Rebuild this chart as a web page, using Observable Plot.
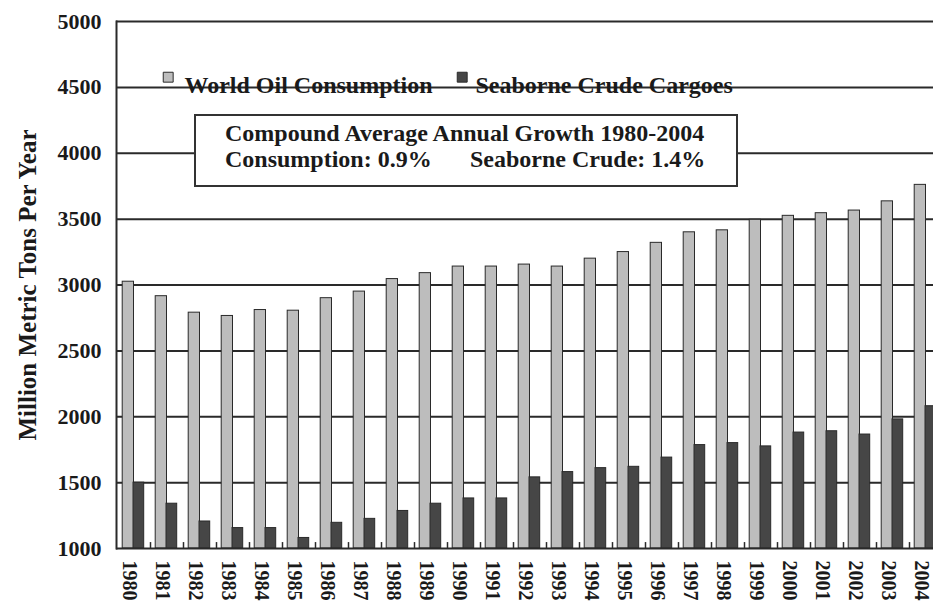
<!DOCTYPE html>
<html><head><meta charset="utf-8">
<script src="https://cdn.jsdelivr.net/npm/d3@7"></script>
<script src="https://cdn.jsdelivr.net/npm/@observablehq/plot@0.6"></script>
<style>
body{margin:0;overflow:hidden;background:#fff;}
#wrap{position:relative;width:933px;height:604px;overflow:hidden;background:#fff;}
#box{position:absolute;left:194px;top:114px;width:540px;height:69px;border:2px solid #333;background:#fff;font:bold 24px "Liberation Serif",serif;color:#1a1a1a;}
#box span{position:absolute;white-space:nowrap;line-height:24px;}
</style></head>
<body><div id="wrap"><div id="box">
<span style="left:29px;top:5px">Compound Average Annual Growth 1980-2004</span>
<span style="left:29px;top:31px">Consumption: 0.9%</span>
<span style="left:274px;top:31px">Seaborne Crude: 1.4%</span>
</div></div>
<script>
const years = ["1980","1981","1982","1983","1984","1985","1986","1987","1988","1989","1990","1991","1992","1993","1994","1995","1996","1997","1998","1999","2000","2001","2002","2003","2004"];
const consumption = [3025,2915,2790,2765,2810,2805,2900,2950,3045,3090,3140,3140,3155,3140,3200,3250,3320,3400,3415,3495,3525,3545,3565,3635,3760];
const seaborne = [1500,1340,1205,1155,1155,1080,1195,1225,1285,1340,1380,1380,1540,1580,1610,1620,1690,1785,1800,1775,1880,1890,1865,1980,2080];
const seriesNames = ["World Oil Consumption","Seaborne Crude Cargoes"];
const yTicks = [1000,1500,2000,2500,3000,3500,4000,4500,5000];
const yLabel = "Million Metric Tons Per Year";

const consRows = years.map((y,i)=>({year:y, value:consumption[i]}));
const seaRows = years.map((y,i)=>({year:y, value:seaborne[i]}));
const lightFill = "#bdbdbd", darkFill = "#464646", ink = "#2a2a2a";

const chart = Plot.plot({
  width: 942, height: 604,
  marginTop: 21, marginBottom: 56, marginLeft: 116, marginRight: 0,
  style: {fontFamily: '"Liberation Serif", serif', fontWeight: "bold", fontSize: "22px", color: "#1a1a1a", background: "#fff", maxWidth: "none"},
  x: {domain: years, padding: 0},
  y: {domain: [1000, 5000]},
  marks: [
    Plot.ruleY(yTicks.slice(1), {stroke: ink, strokeWidth: 2}),
    Plot.barY(consRows, {x: "year", y1: 1000, y2: "value", fill: lightFill, stroke: ink, strokeWidth: 1, insetLeft: 5.2, insetRight: 16.5}),
    Plot.barY(seaRows, {x: "year", y1: 1000, y2: "value", fill: darkFill, stroke: ink, strokeWidth: 1, insetLeft: 16, insetRight: 6.3}),
    Plot.ruleX(years, {x: d => d, dx: 16.5, y1: 1000, y2: 1045, stroke: ink, strokeWidth: 1.5}),
    Plot.ruleY([1000], {stroke: ink, strokeWidth: 2}),
    Plot.frame({anchor: "left", stroke: ink, strokeWidth: 2}),
    Plot.axisY({ticks: yTicks, tickSize: 0, tickPadding: 15, tickFormat: d => String(d), label: null, fontSize: 22}),
    Plot.text([yLabel], {frameAnchor: "left", dx: -89, rotate: -90, text: d => d, textAnchor: "middle", fontSize: 25, fill: "#1a1a1a"}),
    Plot.axisX({tickSize: 0, tickRotate: 90, tickPadding: 12, label: null, dx: -4.5, fontSize: 20}),
    Plot.dot([seriesNames[0]], {frameAnchor: "top-left", dx: 51.7, dy: 55.7, symbol: "square", r: 5.6, fill: lightFill, stroke: ink, strokeWidth: 1}),
    Plot.text([seriesNames[0]], {frameAnchor: "top-left", dx: 68, dy: 54.6, text: d => d, textAnchor: "start", fontSize: 24, fill: "#1a1a1a"}),
    Plot.dot([seriesNames[1]], {frameAnchor: "top-left", dx: 345.7, dy: 55.7, symbol: "square", r: 5.6, fill: darkFill, stroke: ink, strokeWidth: 1}),
    Plot.text([seriesNames[1]], {frameAnchor: "top-left", dx: 359, dy: 54.6, text: d => d, textAnchor: "start", fontSize: 24, fill: "#1a1a1a"})
  ]
});
chart.style.maxWidth = "none";
chart.style.position = "absolute";
chart.style.left = "0"; chart.style.top = "0";
const wrap = document.getElementById("wrap");
wrap.insertBefore(chart, wrap.firstChild);
</script>
</body></html>
